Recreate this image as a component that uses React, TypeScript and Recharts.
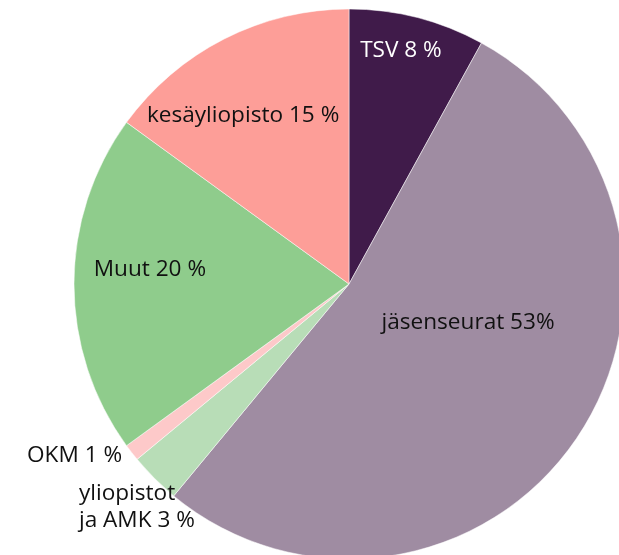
import { PieChart, Pie, Cell } from 'recharts'

// rahoituksen jakauma (%)
const names = ['TSV', 'jäsenseurat', 'yliopistot ja AMK', 'OKM', 'Muut', 'kesäyliopisto']
const values = [8, 53, 3, 1, 20, 15]
const labels = [['TSV 8 %'], ['jäsenseurat 53%'], ['yliopistot', 'ja AMK 3 %'], ['OKM 1 %'], ['Muut 20 %'], ['kesäyliopisto 15 %']]

const colors = ['#401b4a', '#9f8ca2', '#b8ddb7', '#fdc9c9', '#8fcc8c', '#fd9e98']
const textColors = ['#ffffff', '#111', '#111', '#111', '#111', '#111']

// label anchor relative to centre, as a fraction of the radius
const labelPlace: { fx: number; fy: number; anchor: 'start' | 'middle' | 'end' }[] = [
  { fx: 0.189, fy: -0.858, anchor: 'middle' },
  { fx: 0.433, fy: 0.131, anchor: 'middle' },
  { fx: -0.982, fy: 0.753, anchor: 'start' },
  { fx: -0.825, fy: 0.615, anchor: 'end' },
  { fx: -0.724, fy: -0.062, anchor: 'middle' },
  { fx: -0.385, fy: -0.622, anchor: 'middle' },
]

const data = names.map((name, i) => ({ name, value: values[i] }))

const renderLabel = (props: any) => {
  const { cx, cy, outerRadius, index } = props
  const p = labelPlace[index]
  const x = cx + p.fx * outerRadius
  const y = cy + p.fy * outerRadius
  return (
    <text
      x={x}
      y={y}
      textAnchor={p.anchor}
      dominantBaseline="central"
      fill={textColors[index]}
      fontFamily="'Open Sans', sans-serif"
      fontSize={22.6}
    >
      {labels[index].map((line, j) => (
        <tspan key={j} x={x} dy={j === 0 ? 0 : 27}>
          {line}
        </tspan>
      ))}
    </text>
  )
}

export default function App() {
  return (
    <div style={{ position: 'fixed', left: 0, top: 0, width: 619, height: 555 }}>
      <PieChart width={619} height={555} margin={{ top: 0, right: 0, bottom: 0, left: 0 }}>
        <Pie
          data={data}
          dataKey="value"
          nameKey="name"
          cx={349}
          cy={284}
          outerRadius={275}
          startAngle={90}
          endAngle={-270}
          stroke="#ffffff"
          strokeWidth={0.5}
          label={renderLabel}
          labelLine={false}
          isAnimationActive={false}
        >
          {data.map((entry, index) => (
            <Cell key={`cell-${index}`} fill={colors[index]} />
          ))}
        </Pie>
      </PieChart>
    </div>
  )
}
